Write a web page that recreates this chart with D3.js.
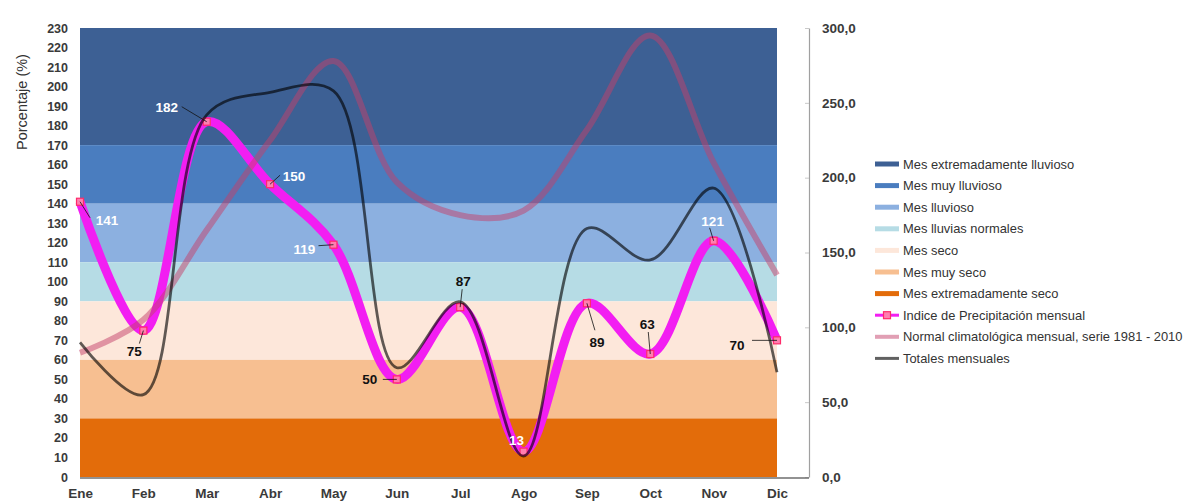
<!DOCTYPE html>
<html>
<head>
<meta charset="utf-8">
<script src="https://cdn.jsdelivr.net/npm/d3@7"></script>
<style>
  html, body { margin: 0; padding: 0; background: #fff; }
  svg { display: block; font-family: "Liberation Sans", Arial, sans-serif; }
</style>
</head>
<body>
<svg id="chart" width="1184" height="503"></svg>
<script>
// ---------- data ----------
const months = ["Ene","Feb","Mar","Abr","May","Jun","Jul","Ago","Sep","Oct","Nov","Dic"];
const indice = [141, 75, 182, 150, 119, 50, 87, 13, 89, 63, 121, 70];          // % (left axis)
const normal = [83, 105, 165, 225, 278, 197, 175, 178, 232, 295, 210, 135];    // mm (right axis)
const totales = [90, 55, 242, 257, 258, 73, 117, 14, 166, 145, 193, 70];       // mm (right axis)

const bandNames = ["Mes extremadamente lluvioso","Mes muy lluvioso","Mes lluvioso","Mes lluvias normales","Mes seco","Mes muy seco","Mes extremadamente seco"];
const bandLow  = [170, 140, 110, 90, 60, 30, 0];
const bandHigh = [230, 170, 140, 110, 90, 60, 30];
const bandColors = ["#3d6094","#4a7dbf","#8cb0e0","#b6dce5","#fde7da","#f7bf91","#e36c0a"];

const leftTicks = d3.range(0, 231, 10);
const rightTicks = [0, 50, 100, 150, 200, 250, 300];
const lineNames = ["Indice de Precipitación mensual","Normal climatológica mensual, serie 1981 - 2010","Totales mensuales"];

// label placement (styling): text offset from the point, leader end, text colour
const labelDX = [27, -9, -40, 24, -29, -27, 3, -7, 10, -3, -1, -40];
const labelDY = [18, 21, -15, -8, 4, 0, -26, -11, 39, -30, -20, 5];
const leadDX  = [10, -4, -25, 10, -15, -14, 2, 0, 8, -2, -4, -25];
const leadDY  = [16, 13, -15, -9, 1, 0, -18, 0, 27, -22, -13, 0];
const labelWhite = [true, false, true, true, true, false, false, true, false, false, true, false];

// ---------- layout ----------
const svg = d3.select("#chart");
const x = d3.scalePoint().domain(months).range([80, 777]);
const yL = d3.scaleLinear().domain([0, 230]).range([477, 28]);
const yR = d3.scaleLinear().domain([0, 300]).range([477, 28]);

// bands
svg.append("g").selectAll("rect").data(bandNames).join("rect")
  .attr("x", 80).attr("width", 777 - 80)
  .attr("y", (d, i) => yL(bandHigh[i]))
  .attr("height", (d, i) => yL(bandLow[i]) - yL(bandHigh[i]))
  .attr("fill", (d, i) => bandColors[i]);

// left axis
const gL = svg.append("g").attr("transform", "translate(80,0)")
  .call(d3.axisLeft(yL).tickValues(leftTicks).tickSize(0).tickPadding(12));
gL.select(".domain").remove();
gL.selectAll("text").attr("font-size", 12.5).attr("font-weight", "bold").attr("fill", "#3a3a3a");

svg.append("text").attr("transform", "translate(27,102) rotate(-90)")
  .attr("text-anchor", "middle").attr("font-size", 14.5).attr("fill", "#333")
  .text("Porcentaje (%)");

// right axis
const gR = svg.append("g").attr("transform", "translate(809,0)")
  .call(d3.axisRight(yR).tickValues(rightTicks).tickSizeInner(-4).tickSizeOuter(0).tickPadding(13)
    .tickFormat(d => d.toFixed(1).replace(".", ",")));
gR.select(".domain").attr("stroke", "#a0a0a0").attr("stroke-width", 1.2);
gR.selectAll(".tick line").attr("stroke", "#c8c8c8");
gR.selectAll("text").attr("font-size", 13.5).attr("font-weight", "bold").attr("fill", "#3a3a3a");

// bottom axis
const gB = svg.append("g").attr("transform", "translate(0,478)")
  .call(d3.axisBottom(x).tickSize(0).tickPadding(10));
gB.select(".domain").attr("stroke", "#6e6e6e").attr("stroke-width", 1.5).attr("d", "M80,0H809");
gB.selectAll("text").attr("font-size", 13.5).attr("font-weight", "bold").attr("fill", "#3a3a3a");

// lines
const curve = d3.curveCatmullRom.alpha(0.5);
const lineL = d3.line().x((d, i) => x(months[i])).y(d => yL(d)).curve(curve);
const lineR = d3.line().x((d, i) => x(months[i])).y(d => yR(d)).curve(curve);

svg.append("path").attr("d", lineL(indice)).attr("fill", "none")
  .attr("stroke", "#f21ef2").attr("stroke-width", 9).attr("stroke-linejoin", "round");
svg.append("g").selectAll("rect").data(indice).join("rect")
  .attr("x", (d, i) => x(months[i]) - 3.5).attr("y", d => yL(d) - 3.5)
  .attr("width", 7).attr("height", 7)
  .attr("fill", "#ff7fb0").attr("stroke", "#ff2a6a").attr("stroke-width", 1.2);

svg.append("path").attr("d", lineR(normal)).attr("fill", "none")
  .attr("stroke", "#c4406a").attr("stroke-opacity", 0.5).attr("stroke-width", 6);
svg.append("path").attr("d", lineR(totales)).attr("fill", "none")
  .attr("stroke", "#000").attr("stroke-opacity", 0.62).attr("stroke-width", 2.8);

// data labels
const gLab = svg.append("g");
indice.forEach((v, i) => {
  const px = x(months[i]), py = yL(v);
  gLab.append("line").attr("x1", px).attr("y1", py)
    .attr("x2", px + leadDX[i]).attr("y2", py + leadDY[i])
    .attr("stroke", "#111").attr("stroke-width", 0.8);
  gLab.append("text").attr("x", px + labelDX[i]).attr("y", py + labelDY[i])
    .attr("dy", "0.36em").attr("text-anchor", "middle")
    .attr("font-size", 13.5).attr("font-weight", "bold")
    .attr("fill", labelWhite[i] ? "#ffffff" : "#111111").text(v);
});

// legend
const legend = svg.append("g").attr("transform", "translate(875,164)");
const rowH = 21.6;
bandNames.forEach((n, i) => {
  const g = legend.append("g").attr("transform", `translate(0,${i * rowH})`);
  g.append("line").attr("x1", 0).attr("x2", 24).attr("stroke", bandColors[i]).attr("stroke-width", 5);
  g.append("text").attr("x", 28).attr("dy", "0.35em").attr("font-size", 12.9).attr("fill", "#333").text(n);
});
lineNames.forEach((n, j) => {
  const i = bandNames.length + j;
  const g = legend.append("g").attr("transform", `translate(0,${i * rowH})`);
  if (j === 0) {
    g.append("line").attr("x1", 0).attr("x2", 24).attr("stroke", "#f21ef2").attr("stroke-width", 3);
    g.append("rect").attr("x", 8.5).attr("y", -3.5).attr("width", 7).attr("height", 7)
      .attr("fill", "#ff7fb0").attr("stroke", "#ff2a6a").attr("stroke-width", 1.2);
  } else if (j === 1) {
    g.append("line").attr("x1", 0).attr("x2", 24).attr("stroke", "#c4406a").attr("stroke-opacity", 0.5).attr("stroke-width", 4);
  } else {
    g.append("line").attr("x1", 0).attr("x2", 24).attr("stroke", "#000").attr("stroke-opacity", 0.62).attr("stroke-width", 3);
  }
  g.append("text").attr("x", 28).attr("dy", "0.35em").attr("font-size", 12.9).attr("fill", "#333").text(n);
});
</script>
</body>
</html>
